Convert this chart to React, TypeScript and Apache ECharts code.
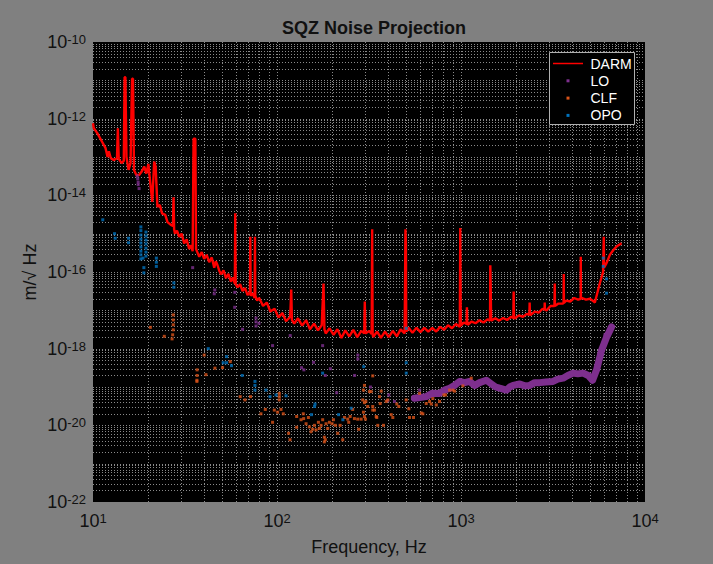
import React, { useEffect, useRef } from "react";
import * as echarts from "echarts";

const FONT = "'Liberation Sans', Arial, Helvetica, sans-serif";

// DARM spectrum: frequency (Hz) and amplitude (m/sqrt(Hz))
const darmFreq = [
  10, 10.1, 10.55, 11.2, 11.7, 12.0, 12.2, 12.5, 13.0, 13.5, 13.65, 13.8, 14.3, 14.7, 14.85, 15.0, 15.2, 15.6, 16.0, 16.3,
  16.5, 16.7, 17.2, 17.8, 18.4, 19.0, 19.5, 20.0, 20.4, 21.0, 21.5, 21.9, 22.4, 23.1, 23.7, 24.7, 25.4, 26.5, 27.2, 27.4,
  27.6, 27.9, 28.6, 29.4, 30.3, 31.3, 32.3, 33.3, 34.1, 34.8, 35.1, 35.2, 36.0, 36.3, 37.0, 37.8, 39.0, 40.2, 41.5, 42.8,
  44.2, 45.6, 46.5, 47.5, 48.5, 49.6, 51.2, 52.8, 54.4, 56.2, 57.6, 59.0, 59.3, 59.6, 61.1, 63.0, 65.0, 67.0, 69.2, 71.3,
  71.6, 71.9, 73.7, 75.6, 75.9, 76.2, 78.0, 80, 84, 88, 92, 97, 102, 107, 112, 118, 119.5, 120.5, 124, 130,
  137, 144, 151, 159, 167, 175, 179, 181, 184, 193, 203, 213, 224, 235, 247, 260, 273, 287, 298, 300,
  302, 317, 327, 329, 331, 333, 350, 367, 386, 405, 426, 448, 470, 494, 497, 499, 502, 504, 519, 545,
  573, 602, 632, 664, 698, 733, 770, 809, 850, 893, 938, 985, 991, 997, 1035, 1072, 1077, 1082, 1088, 1143,
  1200, 1261, 1325, 1392, 1438, 1443, 1450, 1458, 1462, 1536, 1614, 1696, 1781, 1871, 1925, 1933, 1941, 1966, 2065, 2170,
  2280, 2352, 2361, 2370, 2395, 2516, 2643, 2777, 2845, 2851, 2857, 2917, 3065, 3220, 3233, 3240, 3383, 3554, 3610, 3617,
  3624, 3733, 3922, 4120, 4330, 4470, 4477, 4485, 4550, 4780, 5020, 5270, 5340, 5445, 5675, 5918, 5970, 5990, 6180, 6443,
  6715, 7000, 7460,
];
const darmAmp = [
  7.6e-13, 5.6e-13, 4.2e-13, 2.5e-13, 1.7e-13, 1.0e-13, 1.4e-13, 9.3e-14, 8.3e-14, 9.3e-14, 5.6e-13, 8.9e-14, 6.9e-14, 7.9e-14, 1.2e-11, 1.2e-11, 1.0e-13, 4.6e-14, 6.9e-14, 1.1e-11,
  1.1e-11, 4.6e-14, 3.4e-14, 3.4e-14, 4.2e-14, 5.6e-14, 3.7e-14, 6.6e-14, 2.5e-14, 6.8e-15, 7.6e-14, 5.6e-14, 5.0e-15, 5.6e-15, 3.4e-15, 3.1e-15, 2.0e-15, 1.7e-15, 1.6e-15, 8.9e-15,
  1.3e-15, 1.0e-15, 1.2e-15, 8.3e-16, 1.0e-15, 5.6e-16, 7.1e-16, 4.0e-16, 5.0e-16, 3.5e-16, 3.5e-16, 3.0e-13, 3.0e-13, 4.0e-16, 3.2e-16, 2.5e-16, 3.3e-16, 2.2e-16, 2.8e-16, 1.8e-16,
  2.4e-16, 1.3e-16, 1.9e-16, 1.5e-16, 1.1e-16, 8.7e-17, 1.1e-16, 6.9e-17, 8.9e-17, 5.6e-17, 7.2e-17, 5.0e-17, 3.4e-15, 4.8e-17, 4.0e-17, 4.8e-17, 3.2e-17, 3.8e-17, 2.5e-17, 3.0e-17,
  8.3e-16, 2.4e-17, 2.8e-17, 2.1e-17, 8.3e-16, 2.4e-17, 1.8e-17, 2.1e-17, 1.3e-17, 1.6e-17, 9.3e-18, 1.1e-17, 6.5e-18, 8.5e-18, 5.2e-18, 6.8e-18, 3.5e-17, 5.6e-18, 4.5e-18, 6.2e-18,
  4.0e-18, 5.5e-18, 3.2e-18, 4.5e-18, 3.0e-18, 4.1e-18, 5.0e-17, 3.2e-18, 2.5e-18, 3.4e-18, 2.3e-18, 3.2e-18, 1.9e-18, 3.0e-18, 2.1e-18, 3.1e-18, 2.0e-18, 2.9e-18, 2.5e-18, 1.7e-17,
  2.5e-18, 2.9e-18, 2.4e-18, 1.3e-15, 2.4e-18, 2.0e-18, 2.8e-18, 1.9e-18, 2.8e-18, 2.0e-18, 2.9e-18, 2.1e-18, 3.2e-18, 2.5e-18, 2.5e-18, 1.3e-15, 5.6e-16, 2.8e-18, 3.5e-18, 2.6e-18,
  3.5e-18, 2.7e-18, 3.5e-18, 2.8e-18, 3.5e-18, 2.8e-18, 3.7e-18, 3.1e-18, 4.1e-18, 3.4e-18, 4.4e-18, 3.7e-18, 1.4e-15, 4.0e-18, 4.8e-18, 4.4e-18, 1.2e-17, 4.4e-18, 4.2e-18, 5.1e-18,
  4.6e-18, 5.5e-18, 4.8e-18, 5.8e-18, 5.4e-18, 1.5e-16, 4.3e-17, 5.4e-18, 5.2e-18, 6.2e-18, 5.4e-18, 6.3e-18, 5.6e-18, 6.8e-18, 6.3e-18, 3.1e-17, 6.3e-18, 6.2e-18, 7.4e-18, 6.8e-18,
  8.1e-18, 7.6e-18, 1.6e-17, 7.6e-18, 7.6e-18, 9.3e-18, 8.7e-18, 1.1e-17, 1.05e-17, 1.6e-17, 1.05e-17, 1.0e-17, 1.3e-17, 1.3e-17, 5.0e-17, 1.3e-17, 1.5e-17, 1.5e-17, 1.55e-17, 8.9e-17,
  1.55e-17, 1.8e-17, 1.7e-17, 2.1e-17, 1.9e-17, 2.0e-17, 2.5e-16, 2.0e-17, 2.1e-17, 1.9e-17, 2.0e-17, 1.7e-17, 1.6e-17, 2.3e-17, 5.0e-17, 1.0e-16, 8.3e-16, 1.3e-16, 1.7e-16, 2.8e-16,
  3.7e-16, 4.6e-16, 5.6e-16,
];

// LO: dense band (high frequency) and sparse points
const loBandFreq = [
  558, 647, 700, 764, 814, 867, 923, 982, 1047, 1114, 1186, 1262, 1374, 1463, 1543, 1622, 1766, 1841, 1920, 2086,
  2220, 2363, 2516, 2678, 2889, 3165, 3357, 3589, 3805, 4067, 4315, 4613, 4910, 5190, 5456, 5808, 6185, 6583,
];
const loBandAmp = [
  5.1e-20, 5.6e-20, 6.9e-20, 6.8e-20, 8.3e-20, 9.3e-20, 1.1e-19, 1.4e-19, 1.3e-19, 1.4e-19, 1.1e-19, 1.3e-19, 1.5e-19, 1.2e-19, 1.0e-19, 9.3e-20, 8.3e-20, 1.0e-19, 1.1e-19, 1.2e-19,
  1.07e-19, 1.1e-19, 1.3e-19, 1.3e-19, 1.35e-19, 1.4e-19, 1.6e-19, 1.7e-19, 2.0e-19, 2.3e-19, 2.2e-19, 2.3e-19, 2.0e-19, 1.5e-19, 2.8e-19, 9.1e-19, 2.0e-18, 3.7e-18,
];
const loFreq = [
  17.4, 17.5, 17.6, 17.6, 17.8, 34.8, 45.9, 45.6, 59.0, 58.9, 76.9, 76.9, 76.9, 79.8, 65.0, 94.6, 118, 177, 275, 275,
  158, 136, 140, 195, 183, 264, 211, 322, 405, 400, 435, 596, 582, 6053,
];
const loAmp = [
  3.2e-14, 2.7e-14, 2.2e-14, 1.9e-14, 1.5e-14, 1.3e-16, 3.4e-17, 2.7e-17, 2.95e-17, 1.2e-17, 6.3e-18, 5.0e-18, 3.9e-18, 4.6e-18, 3.2e-18, 1.2e-18, 2.2e-18, 1.2e-18, 6.8e-19, 5.4e-19,
  4.4e-19, 3.2e-19, 2.8e-19, 3.0e-19, 2.0e-19, 2.0e-19, 7.1e-20, 1.0e-19, 6.2e-20, 4.4e-20, 4.2e-20, 8.3e-20, 5.6e-20, 2.3e-18,
];

// CLF points
const clfFreq = [
  20.5, 24.4, 27.3, 27.3, 27.3, 27.3, 27.1, 26.9, 40.2, 36.8, 36.8, 36.7, 36.7, 41.1, 46.0, 50.6, 55.7, 63.1, 67.0, 71.8,
  81.8, 86.4, 94.6, 96.7, 100.8, 105.1, 108.2, 102.9, 102.9, 102.9, 115.6, 117.7, 127.9, 127.9, 135.1, 139.0, 139.6, 143.9, 148.1, 149.9,
  153.1, 156.3, 159.7, 163.1, 167.9, 170.0, 173.6, 177.1, 180.9, 180.9, 183.2, 184.8, 188.6, 192.6, 199.3, 202.6, 207.7, 213.8, 220.3, 227.6,
  232.5, 242.3, 245.4, 249.8, 257.9, 263.5, 274.6, 278.1, 286.6, 292.4, 295.0, 295.0, 298.7, 298.7, 298.7, 302.5, 304.0, 311.3, 317.9, 324.8,
  331.4, 331.4, 331.4, 338.6, 346.0, 348.5, 352.9, 360.5, 363.7, 368.3, 379.1, 392.2, 400.1, 417.5, 426.0, 447.9, 459.2, 503.8, 520.5, 525.1,
  552.1, 595.3, 608.1, 620.4, 647.3, 674.6, 689.1, 703.1, 733.8, 764.7, 807.1, 824.5, 866.9, 903.5, 923.0, 1024, 1137,
];
const clfAmp = [
  3.6e-18, 2.1e-18, 7.6e-18, 5.6e-18, 4.2e-18, 3.1e-18, 2.3e-18, 1.8e-18, 6.8e-19, 2.8e-19, 2.0e-19, 1.5e-19, 1.4e-19, 2.1e-19, 3.1e-19, 3.2e-19, 4.6e-19, 5.6e-20, 4.6e-20, 5.6e-20,
  2.0e-20, 2.6e-20, 1.2e-20, 2.5e-20, 2.2e-20, 2.6e-20, 2.0e-20, 6.8e-20, 5.6e-20, 4.6e-20, 6.2e-21, 4.2e-21, 1.7e-20, 8.9e-21, 1.4e-20, 2.0e-20, 1.5e-20, 1.1e-20, 1.6e-20, 9.1e-21,
  6.8e-21, 7.9e-21, 1.0e-20, 7.6e-21, 1.2e-20, 8.3e-21, 1.0e-20, 1.4e-20, 4.9e-21, 3.7e-21, 4.2e-21, 1.1e-20, 8.3e-21, 1.2e-20, 1.1e-20, 1.4e-20, 1.0e-20, 6.2e-21, 1.0e-20, 4.2e-21,
  1.6e-20, 1.45e-20, 1.2e-20, 1.7e-20, 2.6e-20, 1.5e-20, 1.45e-20, 7.9e-21, 1.45e-20, 4.6e-20, 2.2e-20, 8.3e-20, 1.7e-20, 3.9e-20, 1.1e-19, 1.45e-20, 4.2e-20, 3.1e-20, 7.6e-20, 7.6e-20,
  1.95e-19, 3.1e-20, 2.5e-20, 2.5e-20, 1.7e-20, 1.6e-20, 1.0e-20, 5.6e-20, 3.7e-20, 7.8e-20, 1.0e-20, 4.2e-20, 4.6e-20, 1.9e-20, 1.6e-20, 3.6e-20, 3.1e-20, 4.6e-20, 2.7e-20, 1.6e-20,
  1.6e-20, 6.8e-20, 2.1e-20, 2.0e-20, 3.7e-20, 4.2e-20, 3.6e-20, 5.0e-20, 3.4e-20, 4.2e-20, 6.2e-20, 6.2e-20, 8.3e-20, 8.3e-20, 7.8e-20, 1.07e-19, 1.7e-19,
];

// OPO points
const opoFreq = [
  11.3, 13.1, 13.2, 15.6, 15.6, 18.2, 18.2, 18.2, 18.2, 18.2, 18.2, 18.2, 18.2, 18.2, 19.4, 19.4, 19.4, 19.4, 19.4, 19.4,
  19.4, 18.7, 18.9, 18.9, 22.1, 22.1, 22.1, 27.5, 27.5, 42.3, 53.2, 53.2, 51.0, 56.6, 64.7, 75.9, 75.9, 75.9, 87.1, 91.6,
  98.8, 112, 154, 161, 160, 177, 216, 228, 253, 296, 504, 504, 504, 5929, 5929, 6180, 6180,
];
const opoAmp = [
  2.3e-15, 1.0e-15, 7.6e-16, 7.6e-16, 5.8e-16, 1.5e-15, 1.2e-15, 9.2e-16, 7.2e-16, 5.7e-16, 4.5e-16, 3.5e-16, 2.8e-16, 2.2e-16, 1.1e-15, 8.7e-16, 6.8e-16, 5.4e-16, 4.2e-16, 3.3e-16,
  2.6e-16, 2.3e-16, 1.3e-16, 9.5e-17, 2.3e-16, 1.8e-16, 1.4e-16, 5.2e-17, 4.0e-17, 1.0e-18, 6.2e-19, 4.3e-19, 4.3e-19, 3.6e-19, 2.0e-19, 1.4e-19, 1.1e-19, 8.3e-20, 8.3e-20, 5.6e-20,
  6.2e-20, 5.9e-20, 1.9e-20, 3.6e-20, 3.1e-20, 2.3e-19, 1.9e-20, 1.4e-20, 2.8e-20, 3.4e-19, 3.4e-18, 4.3e-19, 2.3e-19, 2.3e-16, 1.4e-16, 6.6e-17, 2.8e-17,
];

const xDecades = [1, 2, 3, 4];
const yDecades = [-20, -18, -16, -14, -12, -10];
const yBottomLabelExp = -22;
const legendNames = ["DARM", "LO", "CLF", "OPO"];
const colors: Record<string, string> = { DARM: "#ff0000", LO: "#7E2F8E", CLF: "#D95319", OPO: "#0072BD" };

const X_MIN = 10, X_MAX = 1e4, Y_MIN = 1e-22, Y_MAX = 1e-10;

function pairs(xs: number[], ys: number[]) {
  return xs.map((x, i) => [x, ys[i]]);
}

function supLabel(v: number) {
  const e = Math.round(Math.log10(v));
  return "{b|10}{s|" + e + "}";
}

const richStyle = {
  b: { fontSize: 18, color: "#111", fontFamily: FONT, lineHeight: 18, padding: [6, 0, 0, 0], verticalAlign: "bottom" },
  s: { fontSize: 13, color: "#111", fontFamily: FONT, lineHeight: 13, verticalAlign: "top" },
};

export default function App() {
  const ref = useRef<HTMLDivElement>(null);
  useEffect(() => {
    if (!ref.current) return;
    const chart = echarts.init(ref.current, null, { renderer: "svg" });

    const gridLines = (params: any, api: any) => {
      const children: any[] = [];
      const style = { stroke: "#8a8a8a", lineWidth: 1, lineDash: [1, 2] };
      for (let d = 1; d <= 3; d++) {
        for (let k = 1; k <= 9; k++) {
          const x = k * Math.pow(10, d);
          if (x <= X_MIN) continue;
          const p1 = api.coord([x, Y_MIN]);
          const p2 = api.coord([x, Y_MAX]);
          const px = Math.round(p1[0]) + 0.5;
          children.push({ type: "line", shape: { x1: px, y1: p1[1], x2: px, y2: p2[1] }, style });
        }
      }
      for (let d = -22; d <= -11; d++) {
        for (let k = 1; k <= 9; k++) {
          const y = k * Math.pow(10, d);
          if (y <= Y_MIN) continue;
          const p1 = api.coord([X_MIN, y]);
          const p2 = api.coord([X_MAX, y]);
          const py = Math.round(p1[1]) + 0.5;
          children.push({ type: "line", shape: { x1: p1[0], y1: py, x2: p2[0], y2: py }, style });
        }
      }
      // bottom-most y tick label (10^-22), placed at the axis minimum via the axis scale
      const pb = api.coord([X_MIN, Y_MIN]);
      children.push({
        type: "text",
        x: pb[0] - 7,
        y: pb[1],
        style: {
          text: "{b|10}{s|" + yBottomLabelExp + "}",
          align: "right",
          verticalAlign: "middle",
          rich: {
            b: { fontSize: 18, fill: "#111", fontFamily: FONT, lineHeight: 18, padding: [6, 0, 0, 0], verticalAlign: "bottom" },
            s: { fontSize: 13, fill: "#111", fontFamily: FONT, lineHeight: 13, verticalAlign: "top" },
          },
        },
      });
      return { type: "group", children };
    };

    const legendX = 549.5, legendY = 52.5, rowH = 17.3;
    const graphics: any[] = [
      { type: "rect", shape: { x: legendX, y: legendY, width: 85, height: 72 }, style: { fill: "#000", stroke: "#b0b0b0", lineWidth: 1 }, z: 100 },
      { type: "line", shape: { x1: 553, y1: legendY + 11, x2: 583, y2: legendY + 11 }, style: { stroke: colors.DARM, lineWidth: 1.5 }, z: 101 },
      {
        type: "text", x: 30, y: 272, rotation: Math.PI / 2, z: 101,
        style: { text: "m/\u221A Hz", fill: "#111", font: "18px " + FONT, align: "center", verticalAlign: "middle" },
      },
    ];
    legendNames.forEach((n, i) => {
      const cy = legendY + 11 + i * rowH;
      if (i > 0) {
        graphics.push({ type: "rect", shape: { x: 566.5, y: cy - 1.5, width: 3, height: 3 }, style: { fill: colors[n] }, z: 101 });
      }
      graphics.push({
        type: "text", x: 590.5, y: cy,
        style: { text: n, fill: "#fff", font: "14px " + FONT, verticalAlign: "middle" },
        z: 101,
      });
    });

    chart.setOption({
      animation: false,
      backgroundColor: "#808080",
      title: {
        text: "SQZ Noise Projection",
        left: 369,
        top: 14,
        textAlign: "center",
        textStyle: { fontSize: 18, fontWeight: "bold", color: "#111", fontFamily: FONT },
      },
      grid: {
        left: 93, right: 68, top: 42, bottom: 62, show: true, backgroundColor: "#000", borderWidth: 0,
        containLabel: false, outerBoundsMode: "none",
      },
      xAxis: {
        type: "log",
        logBase: 10,
        min: X_MIN,
        max: X_MAX,
        interval: 1,
        axisLine: { show: false },
        axisTick: { show: false },
        splitLine: { show: false },
        axisLabel: {
          margin: 10,
          showMinLabel: true,
          showMaxLabel: true,
          hideOverlap: false,
          formatter: (v: number) => {
            const e = Math.round(Math.log10(v));
            return xDecades.indexOf(e) >= 0 ? supLabel(v) : "";
          },
          rich: richStyle,
        },
        name: "Frequency, Hz",
        nameLocation: "middle",
        nameGap: 36,
        nameTextStyle: { fontSize: 18, color: "#111", fontFamily: FONT },
      },
      yAxis: {
        type: "log",
        logBase: 10,
        min: Y_MIN,
        max: Y_MAX,
        interval: 2,
        axisLine: { show: false },
        axisTick: { show: false },
        splitLine: { show: false },
        axisLabel: {
          margin: 7,
          showMinLabel: true,
          showMaxLabel: true,
          hideOverlap: false,
          formatter: (v: number) => {
            const e = Math.round(Math.log10(v));
            return yDecades.indexOf(e) >= 0 ? supLabel(v) : "";
          },
          rich: richStyle,
        },
      },
      graphic: graphics,
      series: [
        { type: "custom", name: "grid", silent: true, z: 1, clip: false, data: [[X_MIN, Y_MIN]], renderItem: gridLines },
        {
          type: "line", name: "DARM", z: 3, data: pairs(darmFreq, darmAmp), symbol: "none",
          lineStyle: { color: colors.DARM, width: 2.4 }, itemStyle: { color: colors.DARM },
        },
        {
          type: "line", name: "LO", z: 3, data: pairs(loBandFreq, loBandAmp), symbol: "none",
          lineStyle: { color: colors.LO, width: 7, join: "round", cap: "round" }, itemStyle: { color: colors.LO },
        },
        {
          type: "scatter", name: "LO", z: 3, data: pairs(loFreq, loAmp), symbol: "rect", symbolSize: 3,
          itemStyle: { color: colors.LO },
        },
        {
          type: "scatter", name: "CLF", z: 3, data: pairs(clfFreq, clfAmp), symbol: "rect", symbolSize: 3,
          itemStyle: { color: colors.CLF },
        },
        {
          type: "scatter", name: "OPO", z: 3, data: pairs(opoFreq, opoAmp), symbol: "rect", symbolSize: 3,
          itemStyle: { color: colors.OPO },
        },
      ],
    });
    return () => chart.dispose();
  }, []);
  return (
    <div
      ref={ref}
      style={{ position: "fixed", left: 0, top: 0, width: 713, height: 564, background: "#808080" }}
    />
  );
}
